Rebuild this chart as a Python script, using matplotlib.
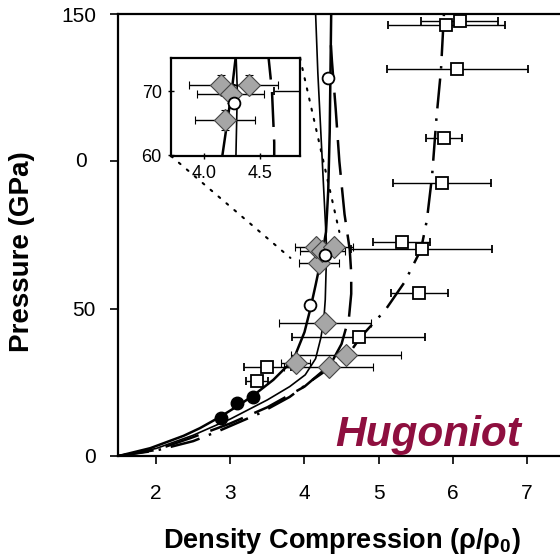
import numpy as np
import matplotlib
matplotlib.use("Agg")
import matplotlib.pyplot as plt

plt.rcParams['font.family'] = ['Liberation Sans', 'DejaVu Sans']
plt.rcParams['mathtext.default'] = 'regular'

# model Hugoniot curves (compression, pressure in GPa)
s1_x = [1.5, 1.92, 2.37, 2.59, 2.86, 3.09, 3.30, 3.58, 3.85, 4.0, 4.08, 4.15, 4.20, 4.25, 4.29, 4.32, 4.34, 4.35, 4.36]
s1_p = [0, 2.6, 6.8, 9.4, 13.2, 16.8, 20.3, 25.8, 32.6, 42, 50, 58, 64, 70, 76, 90, 110, 130, 150]

s2_x = [1.5, 2.0, 2.5, 3.0, 3.5, 3.8, 4.01, 4.15, 4.22, 4.26, 4.28, 4.29, 4.30, 4.28, 4.25, 4.21, 4.18, 4.15]
s2_p = [0, 2.5, 7, 12.5, 19, 23.5, 27.5, 33, 40, 46, 53, 62, 70, 80, 95, 115, 130, 150]

d1_x = [1.5, 2.0, 2.46, 3.0, 3.5, 4.0, 4.35, 4.5, 4.6, 4.63, 4.63, 4.61, 4.54, 4.47, 4.42, 4.37, 4.35]
d1_p = [0, 2, 6, 11, 16.5, 23.5, 31, 38, 47, 55, 62, 70, 82, 100, 118, 134, 142]

d2_x = [1.5, 2.0, 2.5, 2.85, 3.4, 3.8, 4.12, 4.58, 4.76, 5.09, 5.35, 5.57, 5.65, 5.72, 5.78, 5.84, 5.88]
d2_p = [0, 1.8, 5, 8.5, 14.5, 20, 26, 34, 40.4, 49.5, 59, 70, 80, 95, 115, 131, 150]

# measurements
dot_x = [2.87, 3.09, 3.30]
dot_p = [12.8, 17.9, 20.1]

circ_x = [4.08, 4.27, 4.32]
circ_p = [51.2, 68.2, 128.3]

dia_x = [3.88, 4.33, 4.56, 4.27, 4.19, 4.15, 4.24, 4.40]
dia_p = [31.6, 30.3, 34.3, 45.2, 65.5, 71.0, 69.6, 71.0]
dia_xerr = [0.2, 0.6, 0.74, 0.62, 0.27, 0.28, 0.3, 0.26]
dia_perr = [1.5, 1.5, 1.5, 1.5, 1.5, 1.5, 1.5, 1.5]

sq_x = [3.36, 3.50, 4.73, 5.55, 5.58, 5.31, 5.85, 5.88, 6.06, 5.91, 6.09]
sq_p = [25.4, 30.3, 40.3, 55.2, 70.1, 72.7, 92.7, 107.8, 131.2, 146.2, 147.7]
sq_xerr = [0.15, 0.32, 0.9, 0.38, 0.95, 0.38, 0.66, 0.24, 0.95, 0.79, 0.52]
sq_perr = [1, 1, 1, 1, 1, 1, 1, 1, 1, 1, 1]

x_ticks = [2, 3, 4, 5, 6, 7]
y_ticks = [0, 50, 100, 150]
y_labels = ['0', '50', '', '150']

fig = plt.figure(figsize=(5.6, 5.6), dpi=100)
ax = fig.add_axes([0.211, 0.186, 0.795, 0.789])


def draw(a):
    a.plot(s1_x, s1_p, color='black', lw=1.8, solid_capstyle='butt')
    a.plot(s2_x, s2_p, color='black', lw=1.2)
    a.plot(d1_x, d1_p, color='black', lw=1.8, dashes=(14, 5))
    a.plot(d2_x, d2_p, color='black', lw=1.8, dashes=(12, 4, 1, 4))
    a.errorbar(sq_x, sq_p, xerr=sq_xerr, yerr=sq_perr, fmt='s', ms=8, mfc='white',
               mec='black', mew=1.3, ecolor='black', elinewidth=1, capsize=3, zorder=4)
    a.errorbar(dia_x, dia_p, xerr=dia_xerr, yerr=dia_perr, fmt='D', ms=11, mfc='#a6a6a6',
               mec='#444444', mew=0.8, ecolor='black', elinewidth=1, capsize=3, zorder=5)
    a.plot(circ_x, circ_p, 'o', ms=8.5, mfc='white', mec='black', mew=1.3, zorder=6)
    a.plot(dot_x, dot_p, 'o', ms=9, color='black', zorder=6)


draw(ax)

# zoom connector lines from the inset
ax.plot([3.94, 4.47], [135.1, 76.0], color='black', lw=1.5, linestyle=(0, (1, 4)), dash_capstyle='round')
ax.plot([2.20, 3.81], [101.8, 67.2], color='black', lw=1.5, linestyle=(0, (1, 4)), dash_capstyle='round')

ax.set_xlim(1.488, 7.49)
ax.set_ylim(0, 150)
ax.set_xticks(x_ticks)
ax.set_yticks(y_ticks)
ax.set_yticklabels(y_labels)
ax.tick_params(axis='x', direction='out', length=6, width=1.2, labelsize=15, pad=14)
ax.tick_params(axis='y', direction='out', length=6, width=1.2, labelsize=15, pad=10)
ax.spines['right'].set_visible(False)
for s in ['top', 'left', 'bottom']:
    ax.spines[s].set_linewidth(1.6)
# the "100" label only shows its middle zero
ax.text(-0.07, 100, '0', transform=ax.get_yaxis_transform(), ha='right', va='center', fontsize=15)

ax.text(5.67, 3.4, 'Hugoniot', ha='center', va='baseline', fontsize=30.5,
        fontweight='bold', fontstyle='italic', color='#8e0f3f')

fig.text(0.04, 0.55, 'Pressure (GPa)', rotation=90, ha='center', va='center',
         fontsize=20, fontweight='bold')
fig.text(0.611, 0.034, 'Density Compression (ρ/ρ$_0$)', ha='center', va='center',
         fontsize=19.5, fontweight='bold')

# inset
axi = fig.add_axes([0.305, 0.721, 0.230, 0.175])
draw(axi)
axi.set_xlim(3.705, 4.857)
axi.set_ylim(59.84, 75.15)
axi.set_xticks([4.0, 4.5])
axi.set_xticklabels(['4.0', '4.5'])
axi.set_yticks([60, 70])
axi.tick_params(direction='inout', length=5, width=1, labelsize=13, pad=4)
for s in axi.spines.values():
    s.set_linewidth(1.6)

fig.savefig('out.png', dpi=100)
